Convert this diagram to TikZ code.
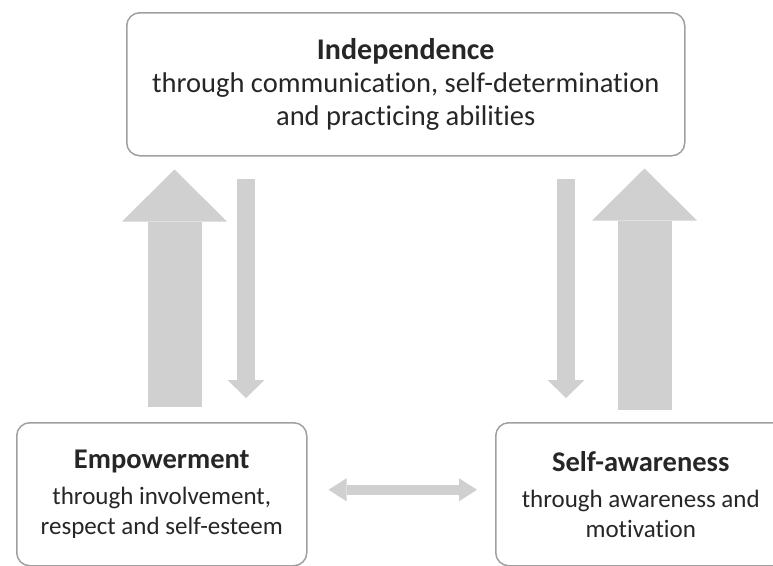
\documentclass[tikz,border=0pt]{standalone}
\usepackage{fontspec}
\setmainfont{Carlito}[Ligatures=NoCommon]
\usetikzlibrary{arrows.meta,positioning,calc}
\definecolor{boxgray}{RGB}{160,160,160}
\definecolor{arrowgray}{RGB}{208,208,208}
\newcommand{\boxtitle}[2]{{\fontsize{#1}{#1}\selectfont\bfseries #2}}

\begin{document}
\begin{tikzpicture}[x=1pt, y=-1pt, line join=round,
  box/.style={draw=boxgray, line width=1.5pt, rounded corners=13pt, align=center, inner sep=0pt, anchor=north west, text=black!85},
  bigarrow/.style={draw=arrowgray, line width=54pt, -{Triangle[length=52pt,width=105pt,line width=0pt]}},
  thinarrow/.style={draw=arrowgray, line width=18pt, -{Triangle[length=18pt,width=37pt,line width=0pt]}},
  sidearrow/.style={draw=arrowgray, line width=10pt, {Triangle[length=18pt,width=23pt,line width=0pt]}-{Triangle[length=18pt,width=23pt,line width=0pt]}}]
\useasboundingbox (0,0) rectangle (773,565);
\node[box, minimum width=558pt, minimum height=143pt, font=\fontsize{28.5}{33}\selectfont] (indep) at (126,12)
  {\boxtitle{30}{Independence}\\through communication, self-determination\\and practicing abilities};
\node[box, minimum width=290pt, minimum height=143pt, font=\fontsize{25}{30}\selectfont] (empow) at (16,422)
  {\boxtitle{28.5}{Empowerment}\\[6pt]through involvement,\\respect and self-esteem};
\node[box, minimum width=290pt, minimum height=143pt, font=\fontsize{25}{30}\selectfont] (aware) at (495,422)
  {\boxtitle{28.5}{Self-awareness}\\[6pt]through awareness and\\motivation};
% arrow columns
\coordinate (colA) at (174.5,0);
\coordinate (colB) at (246,0);
\coordinate (colC) at (566,0);
\coordinate (colD) at (644.5,0);
\draw[bigarrow, shorten <=15pt, shorten >=13pt] (empow.north -| colA) -- (indep.south -| colA);
\draw[thinarrow, shorten <=22pt, shorten >=24pt] (indep.south -| colB) -- (empow.north -| colB);
\draw[thinarrow, shorten <=22pt, shorten >=24pt] (indep.south -| colC) -- (aware.north -| colC);
\draw[bigarrow, shorten <=12pt, shorten >=12pt] (aware.north -| colD) -- (indep.south -| colD);
\draw[sidearrow, shorten <=21pt, shorten >=18pt] ($(empow.east)+(0,-4.5)$) -- ($(aware.west)+(0,-4.5)$);
\end{tikzpicture}
\end{document}
